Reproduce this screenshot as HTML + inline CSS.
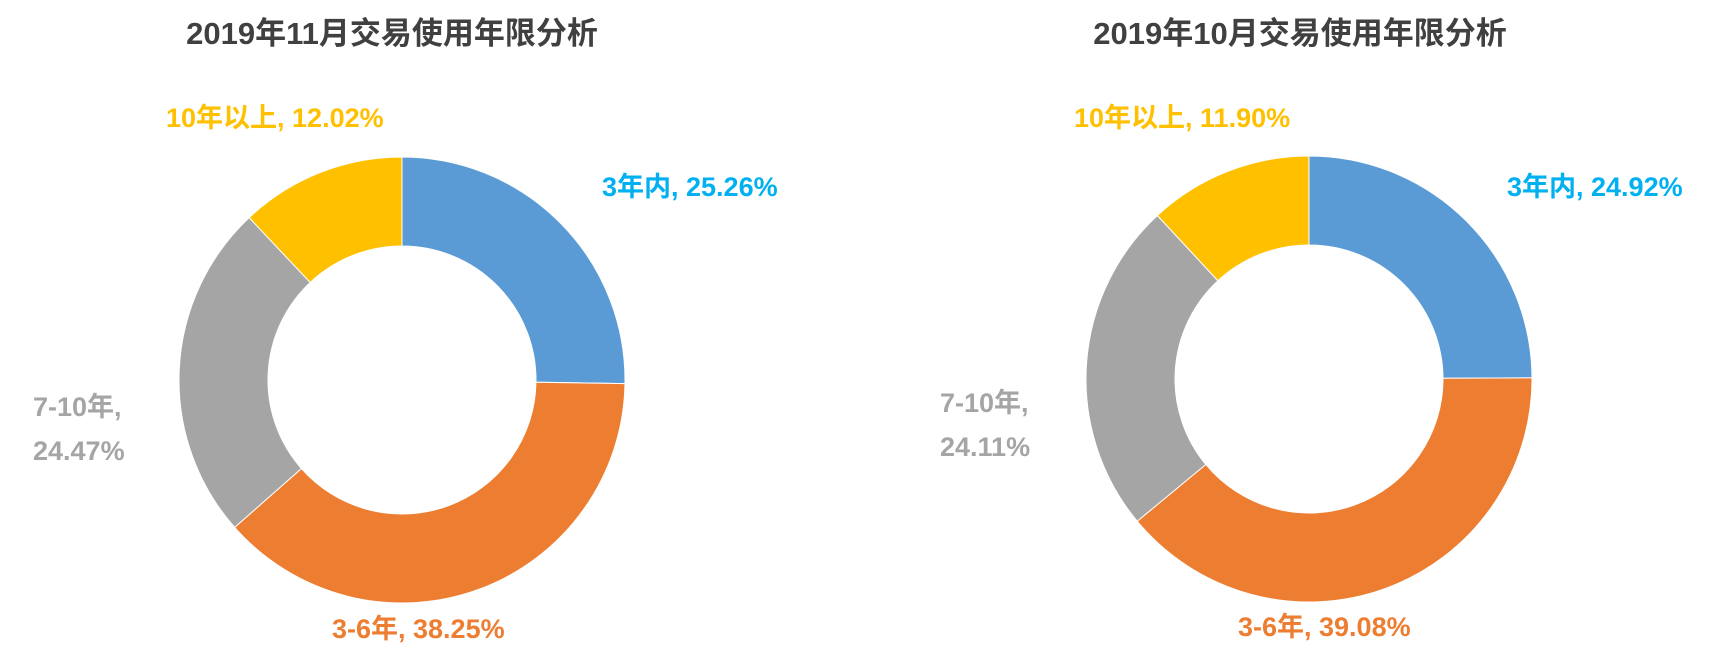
<!DOCTYPE html>
<html><head><meta charset="utf-8"><style>
body{margin:0;background:#fff;width:1709px;height:664px;overflow:hidden}
svg text{font-family:"Liberation Sans","Noto Sans CJK SC",sans-serif;font-weight:bold}
</style></head><body>
<svg id="c" width="1709" height="664"></svg>
<script>
const categories=["3年内","3-6年","7-10年","10年以上"];
const novValues=[25.26,38.25,24.47,12.02];
const octValues=[24.92,39.08,24.11,11.90];
const titles=["2019年11月交易使用年限分析","2019年10月交易使用年限分析"];
const colors=["#5b9bd5","#ed7d31","#a5a5a5","#ffc000"];
const labelColors=["#00b0f0","#ed7d31","#a5a5a5","#ffc000"];
const NS="http://www.w3.org/2000/svg";
const svg=document.getElementById('c');
function el(t,a){const e=document.createElementNS(NS,t);for(const k in a)e.setAttribute(k,a[k]);svg.appendChild(e);return e;}
function pt(cx,cy,r,f){const a=f*2*Math.PI;return [cx+r*Math.sin(a),cy-r*Math.cos(a)];}
function donut(cx,cy,values,title,tx,labels,key){
  const t=el('text',{x:tx,y:44,'text-anchor':'middle','font-size':31,fill:'#404040'});
  t.textContent=title;
  
  
  const R=223,r=134,tot=values.reduce((a,b)=>a+b,0);let acc=0;
  values.forEach((v,i)=>{
    const f0=acc/tot,f1=(acc+v)/tot;acc+=v;
    const [x0,y0]=pt(cx,cy,R,f0),[x1,y1]=pt(cx,cy,R,f1),[x2,y2]=pt(cx,cy,r,f1),[x3,y3]=pt(cx,cy,r,f0);
    const lg=(f1-f0)>0.5?1:0;
    const p=el('path',{d:`M${x0},${y0}A${R},${R} 0 ${lg} 1 ${x1},${y1}L${x2},${y2}A${r},${r} 0 ${lg} 0 ${x3},${y3}Z`,fill:colors[i],stroke:'#fff','stroke-width':1});
    
    
  });
  labels.forEach((L,i)=>{
    L.lines(values[i]).forEach((s,j)=>{
      const tt=el('text',{x:L.x,y:L.y+j*44,'font-size':27,fill:labelColors[i]});
      tt.textContent=s;
      
      
    });
  });
}
const fmt=v=>v.toFixed(2)+'%';
donut(402,380,novValues,titles[0],392,[
 {x:602,y:196,lines:v=>[categories[0]+', '+fmt(v)]},
 {x:332,y:638,lines:v=>[categories[1]+', '+fmt(v)]},
 {x:33,y:416,lines:v=>[categories[2]+',',fmt(v)]},
 {x:166,y:127,lines:v=>[categories[3]+', '+fmt(v)]}],'nov');
donut(1309,379,octValues,titles[1],1300,[
 {x:1507,y:196,lines:v=>[categories[0]+', '+fmt(v)]},
 {x:1238,y:636,lines:v=>[categories[1]+', '+fmt(v)]},
 {x:940,y:412,lines:v=>[categories[2]+',',fmt(v)]},
 {x:1074,y:127,lines:v=>[categories[3]+', '+fmt(v)]}],'oct');
</script>
</body></html>
